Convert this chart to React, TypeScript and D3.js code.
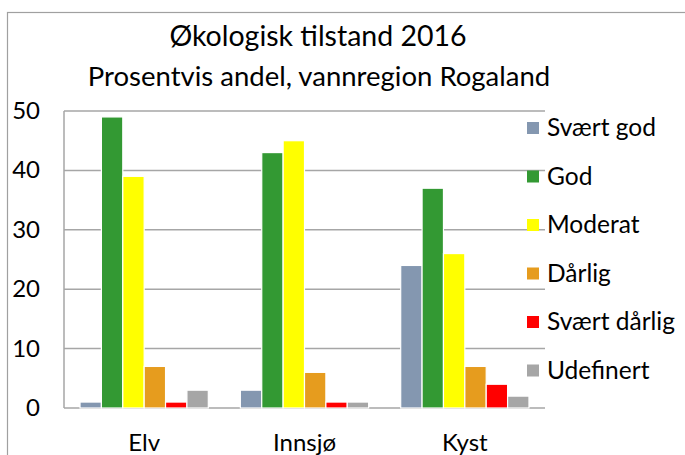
import * as d3 from 'd3';
import { useEffect, useRef } from 'react';

// categories and series
const categories = ['Elv', 'Innsjø', 'Kyst'];
const seriesNames = ['Svært god', 'God', 'Moderat', 'Dårlig', 'Svært dårlig', 'Udefinert'];
const seriesColors = ['#8497b0', '#339933', '#ffff00', '#e69c1e', '#ff0000', '#a6a6a6'];

// percentage values, one array per category in series order
const elvValues = [1, 49, 39, 7, 1, 3];
const innsjoValues = [3, 43, 45, 6, 1, 1];
const kystValues = [24, 37, 26, 7, 4, 2];

const yTicks = [0, 10, 20, 30, 40, 50];

const FONT = 'Lato, "Open Sans", sans-serif';

export default function App() {
  const width = 685;
  const height = 455;
  const ref = useRef<SVGSVGElement>(null);

  useEffect(() => {
    const svg = d3.select(ref.current);
    svg.selectAll('*').remove();

    const plot = { left: 64, right: 545, top: 111, bottom: 408 };

    const rows = [elvValues, innsjoValues, kystValues];

    const x0 = d3
      .scaleBand<string>()
      .domain(categories)
      .range([plot.left, plot.right])
      .paddingInner(0.2)
      .paddingOuter(0.1);
    const x1 = d3
      .scaleBand<string>()
      .domain(seriesNames)
      .range([0, x0.bandwidth()]);
    const y = d3.scaleLinear().domain([0, 50]).range([plot.bottom, plot.top]);
    const color = d3.scaleOrdinal<string, string>().domain(seriesNames).range(seriesColors);

    // outer chart frame (cut off by the window on the right and bottom)
    svg
      .append('rect')
      .attr('x', 7.5)
      .attr('y', 12.5)
      .attr('width', 720)
      .attr('height', 500)
      .attr('fill', 'white')
      .attr('stroke', '#a0a0a0')
      .attr('stroke-width', 1.2);

    // titles
    svg
      .append('text')
      .attr('x', 318)
      .attr('y', 46)
      .attr('text-anchor', 'middle')
      .style('font', `28.5px ${FONT}`)
      .attr('fill', '#000')
      .text('Økologisk tilstand 2016');
    svg
      .append('text')
      .attr('x', 319)
      .attr('y', 86)
      .attr('text-anchor', 'middle')
      .style('font', `27.5px ${FONT}`)
      .attr('fill', '#000')
      .text('Prosentvis andel, vannregion Rogaland');

    // gridlines
    svg
      .append('g')
      .selectAll('line')
      .data(yTicks)
      .join('line')
      .attr('x1', plot.left)
      .attr('x2', plot.right)
      .attr('y1', (d) => y(d))
      .attr('y2', (d) => y(d))
      .attr('stroke', '#a6a6a6')
      .attr('stroke-width', 1.5);

    // left edge of plot area
    svg
      .append('line')
      .attr('x1', plot.left)
      .attr('x2', plot.left)
      .attr('y1', plot.top)
      .attr('y2', plot.bottom)
      .attr('stroke', '#a6a6a6')
      .attr('stroke-width', 1.5);

    // y tick labels
    svg
      .append('g')
      .selectAll('text')
      .data(yTicks)
      .join('text')
      .attr('x', 40)
      .attr('y', (d) => y(d) + 8)
      .attr('text-anchor', 'end')
      .style('font', `24px ${FONT}`)
      .attr('fill', '#000')
      .text((d) => d);

    // bars
    const groups = svg
      .append('g')
      .selectAll('g')
      .data(categories)
      .join('g')
      .attr('transform', (c) => `translate(${x0(c)},0)`);

    groups
      .selectAll('rect')
      .data((c, i) => rows[i].map((v, j) => ({ key: seriesNames[j], value: v, cat: c })))
      .join('rect')
      .attr('x', (d) => x1(d.key)!)
      .attr('width', x1.bandwidth())
      .attr('y', (d) => y(d.value))
      .attr('height', (d) => y(0) - y(d.value))
      .attr('fill', (d) => color(d.key))
      .attr('stroke', 'white')
      .attr('stroke-width', 1.2);

    // category labels
    svg
      .append('g')
      .selectAll('text')
      .data(categories)
      .join('text')
      .attr('x', (c) => x0(c)! + x0.bandwidth() / 2)
      .attr('y', 451)
      .attr('text-anchor', 'middle')
      .style('font', `24px ${FONT}`)
      .attr('fill', '#000')
      .text((c) => c);

    // legend
    const legend = svg
      .append('g')
      .selectAll('g')
      .data(seriesNames)
      .join('g')
      .attr('transform', (_, i) => `translate(527,${128 + i * 48.5})`);
    legend
      .append('rect')
      .attr('x', 0)
      .attr('y', -6)
      .attr('width', 12)
      .attr('height', 12)
      .attr('fill', (d) => color(d));
    legend
      .append('text')
      .attr('x', 20)
      .attr('y', 8)
      .style('font', `24.5px ${FONT}`)
      .attr('fill', '#000')
      .text((d) => d);
  }, []);

  return (
    <svg
      ref={ref}
      width={width}
      height={height}
      style={{ position: 'absolute', left: 0, top: 0, background: 'white' }}
    />
  );
}
